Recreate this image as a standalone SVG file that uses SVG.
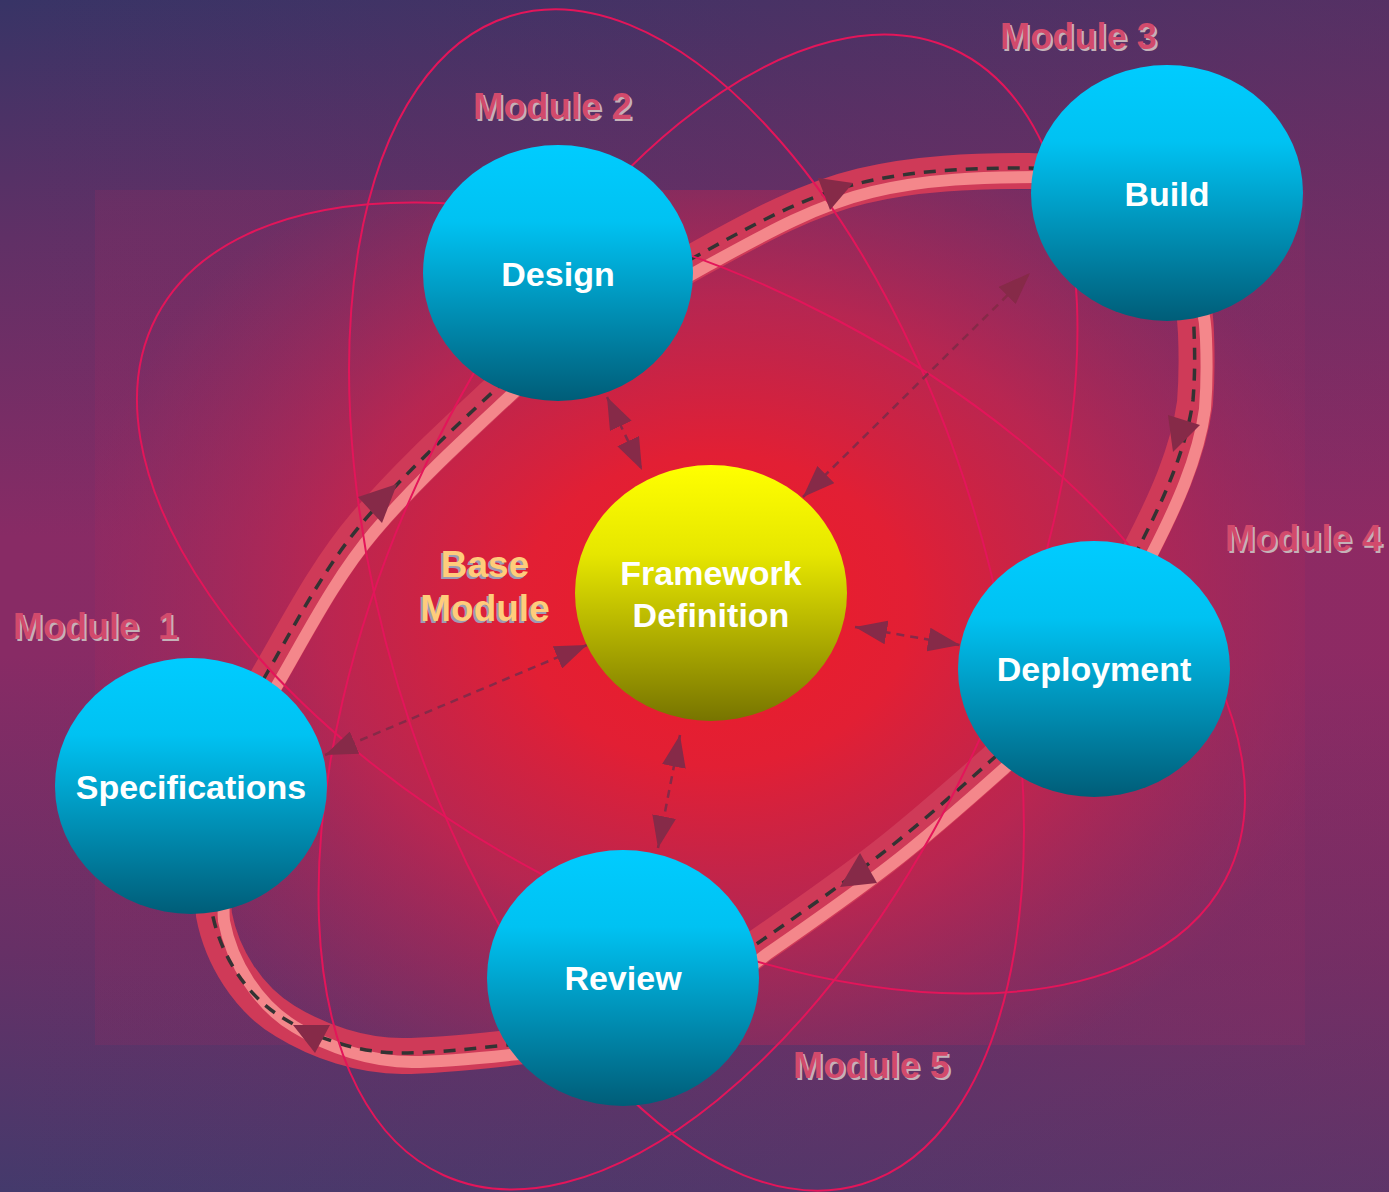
<svg xmlns="http://www.w3.org/2000/svg" xmlns:xlink="http://www.w3.org/1999/xlink" width="1389" height="1192" viewBox="0 0 1389 1192">
<defs>
<style>
.txt{font-family:"Liberation Sans",Arial,sans-serif;font-weight:bold;}
.lbl{font-size:34px;fill:#ffffff;text-anchor:middle;}
.mod{font-size:36px;fill:#d24a6c;}
.modsh{font-size:36px;fill:#c4b2b8;}
.base{font-size:37px;fill:#ffcc7c;text-anchor:middle;}
.basesh{font-size:37px;fill:#9c9cb4;text-anchor:middle;}
.orbit{fill:none;stroke:#e3155a;stroke-width:2;}
.conn{fill:none;stroke:#862a48;stroke-width:2.5;stroke-dasharray:8 6;}
.head{fill:#862a48;}
.blue{fill:url(#gBlue);}
</style>
<linearGradient id="gBg" x1="0" y1="0" x2="0" y2="1">
<stop offset="0" stop-color="#383466"/>
<stop offset="0.2" stop-color="#603066"/>
<stop offset="0.45" stop-color="#882b65"/>
<stop offset="0.55" stop-color="#882b65"/>
<stop offset="0.8" stop-color="#663066"/>
<stop offset="1" stop-color="#443a6c"/>
</linearGradient>
<linearGradient id="gSide" x1="0" y1="0" x2="1" y2="0">
<stop offset="0" stop-color="#9a2860" stop-opacity="0"/>
<stop offset="1" stop-color="#9a2860" stop-opacity="0.3"/>
</linearGradient>
<radialGradient id="gGlow" gradientUnits="userSpaceOnUse" cx="0" cy="0" r="1" gradientTransform="translate(715 610) scale(650 520)">
<stop offset="0" stop-color="#ee1c28" stop-opacity="1"/>
<stop offset="0.3" stop-color="#e21f34" stop-opacity="1"/>
<stop offset="0.6" stop-color="#c2254e" stop-opacity="0.85"/>
<stop offset="0.85" stop-color="#a82858" stop-opacity="0.45"/>
<stop offset="1" stop-color="#9c2a60" stop-opacity="0.2"/>
</radialGradient>
<linearGradient id="gBlue" x1="0" y1="0" x2="0" y2="1">
<stop offset="0" stop-color="#00ccff"/>
<stop offset="0.3" stop-color="#00c2f2"/>
<stop offset="1" stop-color="#005d78"/>
</linearGradient>
<linearGradient id="gYellow" x1="0" y1="0" x2="0" y2="1">
<stop offset="0" stop-color="#ffff00"/>
<stop offset="0.35" stop-color="#e6e600"/>
<stop offset="1" stop-color="#777400"/>
</linearGradient>
<marker id="ah" viewBox="0 0 32 24" refX="32" refY="12" markerWidth="32" markerHeight="24" markerUnits="userSpaceOnUse" orient="auto-start-reverse">
<path d="M0,0 L32,12 L0,24 z" fill="#862a48"/>
</marker>
<path id="loop" d="M263,680 C294,627 323,569 363,522 C404,474 451,431 497,388 C548,340 632,292 693,258 C746,229 801,197 860,183 C914,170 971,168 1027,168 C1110,168 1192,235 1194,330 C1195,355 1195,375 1193,400 C1186,451 1163,500 1140,545 C1117,590 1040,715 995,757 C958,790 920,824 880,855 C840,886 797,916 755,945 C700,990 590,1035 507,1045 C470,1049 435,1053 400,1053 C360,1053 317,1039 283,1018 C246,996 220,954 212,912 C208,872 233,732 263,680 Z"/>
</defs>

<rect x="0" y="0" width="1389" height="1192" fill="url(#gBg)"/>
<rect x="0" y="0" width="1389" height="1192" fill="url(#gSide)"/>
<rect x="95" y="190" width="1210" height="855" fill="url(#gGlow)"/>

<g id="cycle-band">
<use xlink:href="#loop" href="#loop" fill="none" stroke="#cf3a58" stroke-width="36" transform="translate(2 3)"/>
<use xlink:href="#loop" href="#loop" fill="none" stroke="#f4878b" stroke-width="12" transform="translate(12 9)"/>
<use xlink:href="#loop" href="#loop" fill="none" stroke="#333333" stroke-width="3.5" stroke-dasharray="12 9"/>
</g>

<g id="orbits">
<ellipse class="orbit" cx="0" cy="0" rx="604" ry="314" transform="translate(691 598) rotate(27.8)"/>
<ellipse class="orbit" cx="0" cy="0" rx="610" ry="301" transform="translate(686.5 600) rotate(73.3)"/>
<ellipse class="orbit" cx="0" cy="0" rx="618" ry="309" transform="translate(698 612) rotate(114.3)"/>
</g>

<g id="cycle-arrows">
<polygon class="head" points="397,484 358,497 382,523"/>
<polygon class="head" points="853,183 818,178 830,210"/>
<polygon class="head" points="1173,452 1168,415 1200,425"/>
<polygon class="head" points="840,887 860,853 877,883"/>
<polygon class="head" points="315,1053 293,1025 330,1025"/>
</g>

<g id="connectors">
<line class="conn" x1="607" y1="397" x2="642" y2="470" marker-start="url(#ah)" marker-end="url(#ah)"/>
<line class="conn" x1="855" y1="627" x2="960" y2="645" marker-start="url(#ah)" marker-end="url(#ah)"/>
<line class="conn" x1="587" y1="645" x2="325" y2="755" marker-start="url(#ah)" marker-end="url(#ah)"/>
<line class="conn" x1="680" y1="735" x2="658" y2="848" marker-start="url(#ah)" marker-end="url(#ah)"/>
<line class="conn" x1="803" y1="497" x2="1030" y2="273" marker-start="url(#ah)" marker-end="url(#ah)"/>
</g>

<g id="node-design">
<ellipse class="blue" cx="558" cy="273" rx="135" ry="128"/>
<text class="txt lbl" x="558" y="286">Design</text>
</g>
<g id="node-build">
<ellipse class="blue" cx="1167" cy="193" rx="136" ry="128"/>
<text class="txt lbl" x="1167" y="206">Build</text>
</g>
<g id="node-deployment">
<ellipse class="blue" cx="1094" cy="669" rx="136" ry="128"/>
<text class="txt lbl" x="1094" y="681">Deployment</text>
</g>
<g id="node-review">
<ellipse class="blue" cx="623" cy="978" rx="136" ry="128"/>
<text class="txt lbl" x="623" y="990">Review</text>
</g>
<g id="node-specifications">
<ellipse class="blue" cx="191" cy="786" rx="136" ry="128"/>
<text class="txt lbl" x="191" y="799">Specifications</text>
</g>
<g id="node-framework">
<ellipse cx="711" cy="593" rx="136" ry="128" fill="url(#gYellow)"/>
<text class="txt lbl" x="711" y="585">Framework</text>
<text class="txt lbl" x="711" y="627">Definition</text>
</g>

<g id="labels">
<text class="txt basesh" x="483" y="579">Base</text>
<text class="txt base" x="485" y="577">Base</text>
<text class="txt basesh" x="483" y="623">Module</text>
<text class="txt base" x="485" y="621">Module</text>

<text class="txt modsh" x="15" y="641">Module <tspan x="160">1</tspan></text>
<text class="txt mod" x="13" y="639">Module <tspan x="158">1</tspan></text>

<text class="txt modsh" x="475" y="121" textLength="159" lengthAdjust="spacingAndGlyphs">Module 2</text>
<text class="txt mod" x="473" y="119" textLength="159" lengthAdjust="spacingAndGlyphs">Module 2</text>

<text class="txt modsh" x="1002" y="51" textLength="157" lengthAdjust="spacingAndGlyphs">Module 3</text>
<text class="txt mod" x="1000" y="49" textLength="157" lengthAdjust="spacingAndGlyphs">Module 3</text>

<text class="txt modsh" x="1227" y="553" textLength="157" lengthAdjust="spacingAndGlyphs">Module 4</text>
<text class="txt mod" x="1225" y="551" textLength="157" lengthAdjust="spacingAndGlyphs">Module 4</text>

<text class="txt modsh" x="795" y="1080" textLength="157" lengthAdjust="spacingAndGlyphs">Module 5</text>
<text class="txt mod" x="793" y="1078" textLength="157" lengthAdjust="spacingAndGlyphs">Module 5</text>
</g>
</svg>
